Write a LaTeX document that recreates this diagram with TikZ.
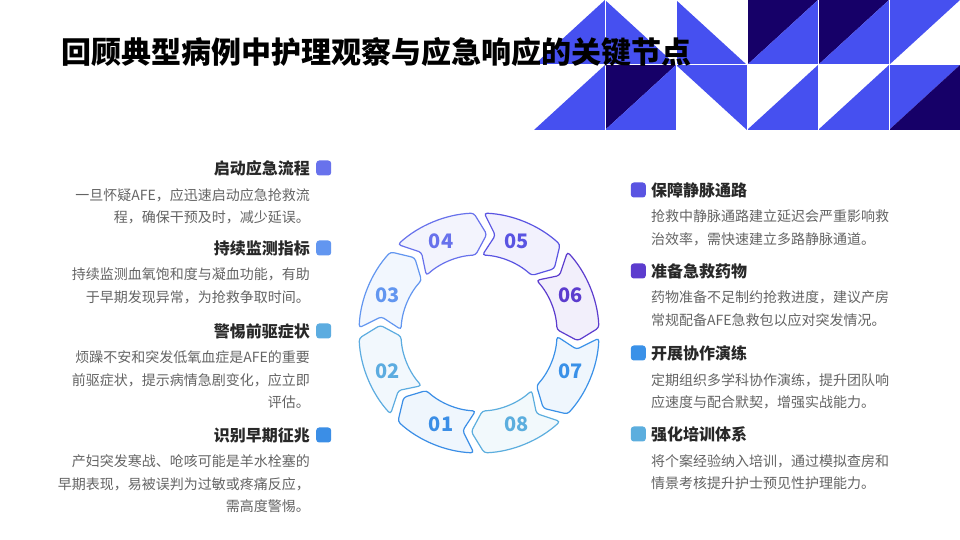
\documentclass[tikz,border=0pt]{standalone}
\usepackage{fontspec}
\setmainfont{Noto Sans CJK SC}
\usetikzlibrary{positioning, calc}
\definecolor{tblue}{RGB}{70,80,240}
\definecolor{tnavy}{RGB}{22,0,104}
\definecolor{headgray}{RGB}{40,40,40}
\definecolor{bodygray}{RGB}{100,100,100}
\definecolor{c01}{RGB}{59,142,230}
\definecolor{c02}{RGB}{92,172,224}
\definecolor{c03}{RGB}{98,150,240}
\definecolor{c04}{RGB}{104,114,236}
\definecolor{c05}{RGB}{90,84,226}
\definecolor{c06}{RGB}{92,60,206}
\definecolor{c07}{RGB}{58,145,232}
\definecolor{c08}{RGB}{92,174,222}

\begin{document}
\begin{tikzpicture}[x=1pt, y=1pt,
    seg/.style={draw=#1, fill=#1!8, line width=1.2pt, rounded corners=3pt},
    num/.style={font=\bfseries\fontsize{20}{24}\selectfont, text=#1},
    head/.style={font=\bfseries\fontsize{16}{19}\selectfont, text=headgray, inner sep=0pt},
    body/.style={font=\fontsize{14}{22.5}\selectfont, text=bodygray, inner sep=0pt},
    dot/.style={fill=#1, minimum size=15pt, inner sep=0pt, rounded corners=3pt}]

    \useasboundingbox[fill=white] (0,0) rectangle (960,540);

    % corner pattern
    \fill[tblue] (605,540) -- (605,475) -- (534,475) -- cycle;
    \fill[tblue] (605,540) -- (605,475) -- (676,475) -- cycle;
    \fill[tblue] (676,540) -- (676,475) -- (747,475) -- cycle;
    \fill[tnavy] (747,540) -- (818,540) -- (747,475) -- cycle;
    \fill[tblue] (818,540) -- (818,475) -- (747,475) -- cycle;
    \fill[tnavy] (818,540) -- (889,540) -- (818,475) -- cycle;
    \fill[tblue] (889,540) -- (889,475) -- (818,475) -- cycle;
    \fill[tblue] (889,540) -- (960,540) -- (889,475) -- cycle;
    \fill[tblue] (605,475) -- (605,410) -- (534,410) -- cycle;
    \fill[tnavy] (605,475) -- (676,475) -- (605,410) -- cycle;
    \fill[tblue] (676,475) -- (676,410) -- (605,410) -- cycle;
    \fill[tblue] (676,475) -- (747,475) -- (747,410) -- cycle;
    \fill[tblue] (818,475) -- (818,410) -- (747,410) -- cycle;
    \fill[tblue] (889,475) -- (889,410) -- (818,410) -- cycle;
    \fill[tblue] (889,475) -- (960,475) -- (889,410) -- cycle;
    \fill[tnavy] (960,475) -- (960,410) -- (889,410) -- cycle;
    \foreach \x in {605,676,747,818,889}
        \draw[white, line width=1pt] (\x,410) -- (\x,540);
    \draw[white, line width=1pt] (534,475) -- (960,475);

    \node[font=\bfseries\fontsize{30}{36}\selectfont, anchor=west, inner sep=0pt] (title) at (61,488) {回顾典型病例中护理观察与应急响应的关键节点};

    % ring
    \coordinate (ctr) at (479,207);
    \foreach \n/\lab/\col in {0/01/c01, 1/02/c02, 2/03/c03, 3/04/c04, 4/05/c05, 5/06/c06, 6/07/c07, 7/08/c08} {
        \pgfmathsetmacro\a{247.5-45*\n}
        \draw[seg=\col, shift={(ctr)}] (\a+20:120) arc[start angle=\a+20, end angle=\a-20, radius=120pt]
            -- (\a-27:99) -- (\a-20:78) arc[start angle=\a-20, end angle=\a+20, radius=78pt]
            -- (\a+13:99) -- cycle;
        \node[num=\col] (s\lab) at ($(ctr)+(\a:99)$) {\lab};
    }

    % left column
    \node[head, anchor=east] (h1) at (310,372) {启动应急流程};
    \node[dot=c04, right=6pt of h1] (d1) {};
    \node[body, align=right, below left=12pt and 0pt of h1.south east] (b1) {一旦怀疑AFE，应迅速启动应急抢救流\\程，确保干预及时，减少延误。};

    \node[head, anchor=east] (h2) at (310,292) {持续监测指标};
    \node[dot=c03, right=6pt of h2] (d2) {};
    \node[body, align=right, below left=12pt and 0pt of h2.south east] (b2) {持续监测血氧饱和度与凝血功能，有助\\于早期发现异常，为抢救争取时间。};

    \node[head, anchor=east] (h3) at (310,209) {警惕前驱症状};
    \node[dot=c02, right=6pt of h3] (d3) {};
    \node[body, align=right, below left=12pt and 0pt of h3.south east] (b3) {烦躁不安和突发低氧血症是AFE的重要\\前驱症状，提示病情急剧变化，应立即\\评估。};

    \node[head, anchor=east] (h4) at (310,105) {识别早期征兆};
    \node[dot=c01, right=6pt of h4] (d4) {};
    \node[body, align=right, below left=12pt and 0pt of h4.south east] (b4) {产妇突发寒战、呛咳可能是羊水栓塞的\\早期表现，易被误判为过敏或疼痛反应，\\需高度警惕。};

    % right column
    \node[head, anchor=west] (h5) at (651,350) {保障静脉通路};
    \node[dot=c05, left=5pt of h5] (d5) {};
    \node[body, align=left, below right=12pt and 0pt of h5.south west] (b5) {抢救中静脉通路建立延迟会严重影响救\\治效率，需快速建立多路静脉通道。};

    \node[head, anchor=west] (h6) at (651,269) {准备急救药物};
    \node[dot=c06, left=5pt of h6] (d6) {};
    \node[body, align=left, below right=12pt and 0pt of h6.south west] (b6) {药物准备不足制约抢救进度，建议产房\\常规配备AFE急救包以应对突发情况。};

    \node[head, anchor=west] (h7) at (651,187) {开展协作演练};
    \node[dot=c07, left=5pt of h7] (d7) {};
    \node[body, align=left, below right=12pt and 0pt of h7.south west] (b7) {定期组织多学科协作演练，提升团队响\\应速度与配合默契，增强实战能力。};

    \node[head, anchor=west] (h8) at (651,106) {强化培训体系};
    \node[dot=c08, left=5pt of h8] (d8) {};
    \node[body, align=left, below right=12pt and 0pt of h8.south west] (b8) {将个案经验纳入培训，通过模拟查房和\\情景考核提升护士预见性护理能力。};
\end{tikzpicture}
\end{document}
